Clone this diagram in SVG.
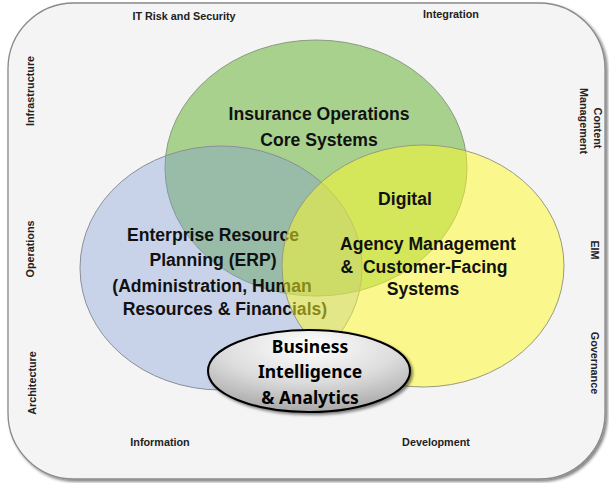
<svg xmlns="http://www.w3.org/2000/svg" width="609" height="483" viewBox="0 0 609 483">
<defs>
<style>
.lbl{font-family:"Liberation Sans",Arial,sans-serif;font-weight:bold;font-size:10.8px;fill:#222;text-anchor:middle}
.big{font-family:"Liberation Sans",Arial,sans-serif;font-weight:bold;font-size:17.6px;fill:#111;text-anchor:middle}
.bi{font-family:"Noto Sans","Open Sans",sans-serif;font-weight:bold;font-size:17.5px;fill:#000;text-anchor:middle}
</style>
<filter id="sh" x="-10%" y="-10%" width="120%" height="120%">
<feGaussianBlur in="SourceAlpha" stdDeviation="1.5"/>
<feOffset dx="2" dy="2" result="o"/>
<feComponentTransfer><feFuncA type="linear" slope="0.5"/></feComponentTransfer>
<feMerge><feMergeNode/><feMergeNode in="SourceGraphic"/></feMerge>
</filter>
<radialGradient id="gbi" cx="0.5" cy="0.2" r="0.8">
<stop offset="0" stop-color="#ffffff"/>
<stop offset="0.55" stop-color="#dcdcdc"/>
<stop offset="1" stop-color="#a8a8a8"/>
</radialGradient>
</defs>
<rect width="609" height="483" fill="#ffffff"/>
<g id="frame">
<rect x="8" y="3" width="597" height="476" rx="66" ry="66" fill="#f4f4f4" stroke="#8a8a8a" stroke-width="1.3" filter="url(#sh)"/>
</g>
<g id="labels">
<text class="lbl" x="184" y="20">IT Risk and Security</text>
<text class="lbl" x="451" y="18">Integration</text>
<text class="lbl" x="160" y="446">Information</text>
<text class="lbl" x="436" y="446">Development</text>
<text class="lbl" transform="translate(34,91) rotate(-90)">Infrastructure</text>
<text class="lbl" transform="translate(34,249) rotate(-90)">Operations</text>
<text class="lbl" transform="translate(36,383) rotate(-90)">Architecture</text>
<text class="lbl" transform="translate(594,128) rotate(90)">Content</text>
<text class="lbl" transform="translate(580,121) rotate(90)">Management</text>
<text class="lbl" transform="translate(591,250) rotate(90)">EIM</text>
<text class="lbl" transform="translate(591,363) rotate(90)">Governance</text>
</g>
<g id="insurance">
<ellipse cx="316" cy="168" rx="151" ry="128" fill="#a9d18e" stroke="#8a9a80" stroke-width="1"/>
<text class="big" x="319" y="120">Insurance Operations</text>
<text class="big" x="319" y="146">Core Systems</text>
</g>
<g id="erp">
<ellipse cx="221" cy="268" rx="141" ry="122" fill="#7999d7" fill-opacity="0.36" stroke="#8a8f9a" stroke-width="1"/>
<text class="big" x="213" y="241">Enterprise Resource</text>
<text class="big" x="213" y="266">Planning (ERP)</text>
<text class="big" x="212" y="292">(Administration, Human</text>
<text class="big" x="225" y="315">Resources &amp; Financials)</text>
</g>
<g id="agency">
<ellipse cx="423" cy="266" rx="141" ry="121" fill="#fffc24" fill-opacity="0.5" stroke="#9a9a80" stroke-width="1"/>
<text class="big" x="405" y="205">Digital</text>
<text class="big" x="428" y="250">Agency Management</text>
<text class="big" x="424" y="273" xml:space="preserve">&amp;  Customer-Facing</text>
<text class="big" x="423" y="295">Systems</text>
</g>
<g id="bi">
<ellipse cx="309" cy="371" rx="101" ry="41" fill="url(#gbi)" stroke="#000" stroke-width="2" filter="url(#sh)"/>
<text class="bi" x="310" y="353">Business</text>
<text class="bi" x="310" y="378">Intelligence</text>
<text class="bi" x="310" y="404">&amp; Analytics</text>
</g>
<g id="connectors"/>
</svg>
